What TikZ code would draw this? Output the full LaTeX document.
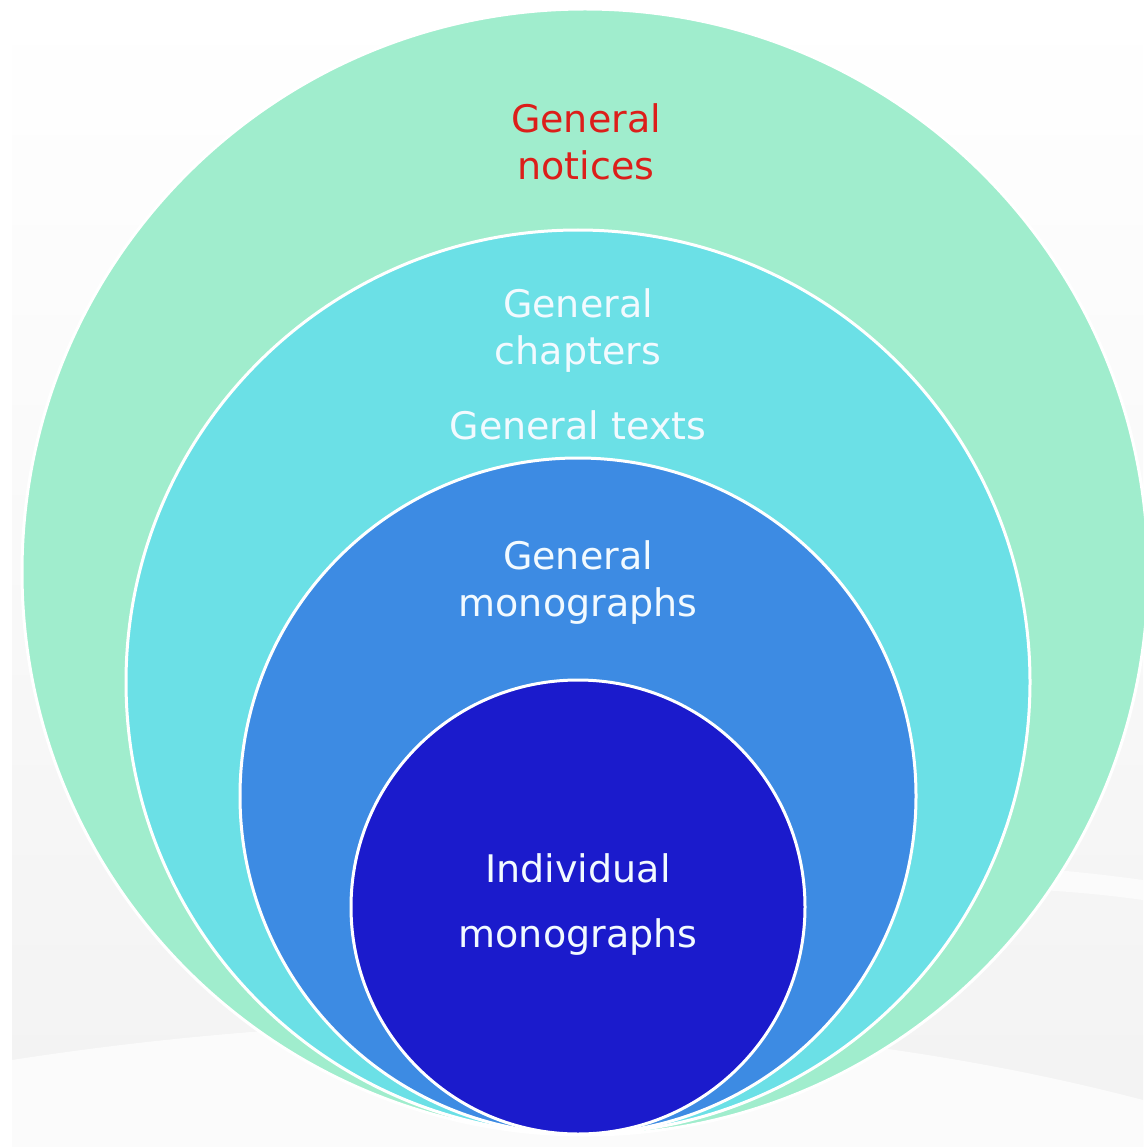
\documentclass[tikz,border=0pt]{standalone}
\usepackage{fontspec}
\setmainfont{DejaVu Sans}
\definecolor{noticegreen}{HTML}{A0EDCD}
\definecolor{chaptercyan}{HTML}{6BE0E6}
\definecolor{monoblue}{HTML}{3D8BE3}
\definecolor{indigo}{HTML}{1B1BCC}
\definecolor{noticered}{HTML}{DC1E1A}
\definecolor{softwhite}{HTML}{F2FAFF}
\tikzset{
  ring/.style={circle, inner sep=0pt, draw=white, line width=3pt},
  label text/.style={align=center, font=\fontsize{38}{47}\selectfont, text=softwhite}
}

\begin{document}
\begin{tikzpicture}[x=1pt,y=-1pt]
  % page and soft grey backdrop
  \useasboundingbox (0,0) rectangle (1143,1147);
  \fill[white] (0,0) rectangle (1143,1147);
  \shade[top color=white, bottom color=gray!10] (12,0) rectangle (1143,1147);
  \fill[white, opacity=.7] (12,1060) .. controls (400,1000) and (800,1010) .. (1143,1100)
    -- (1143,1147) -- (12,1147) -- cycle;
  \fill[white, opacity=.6] (600,900) .. controls (800,850) and (1000,860) .. (1143,880)
    -- (1143,900) .. controls (1000,880) and (800,880) .. (600,930) -- cycle;

  % nested circles, all touching at the bottom
  \node[ring, fill=noticegreen, minimum size=1126] (notices) at (585,572) {};
  \node[ring, fill=chaptercyan, minimum size=904] (chapters) at (578,682) {};
  \node[ring, fill=monoblue, minimum size=676] (general) at (578,796) {};
  \node[ring, fill=indigo, minimum size=454] (individual) at (578,907) {};

  % labels
  \node[label text, text=noticered] (noticestext) at (586,142) {General\\notices};
  \node[label text] (chapterstext) at (578,331) {General\\chapters};
  \node[label text] (textstext) at (578,425) {General texts};
  \node[label text] (generaltext) at (578,583) {General\\monographs};
  \node[label text, font=\fontsize{38}{65}\selectfont] (individualtext) at (578,905) {Individual\\monographs};
\end{tikzpicture}
\end{document}
